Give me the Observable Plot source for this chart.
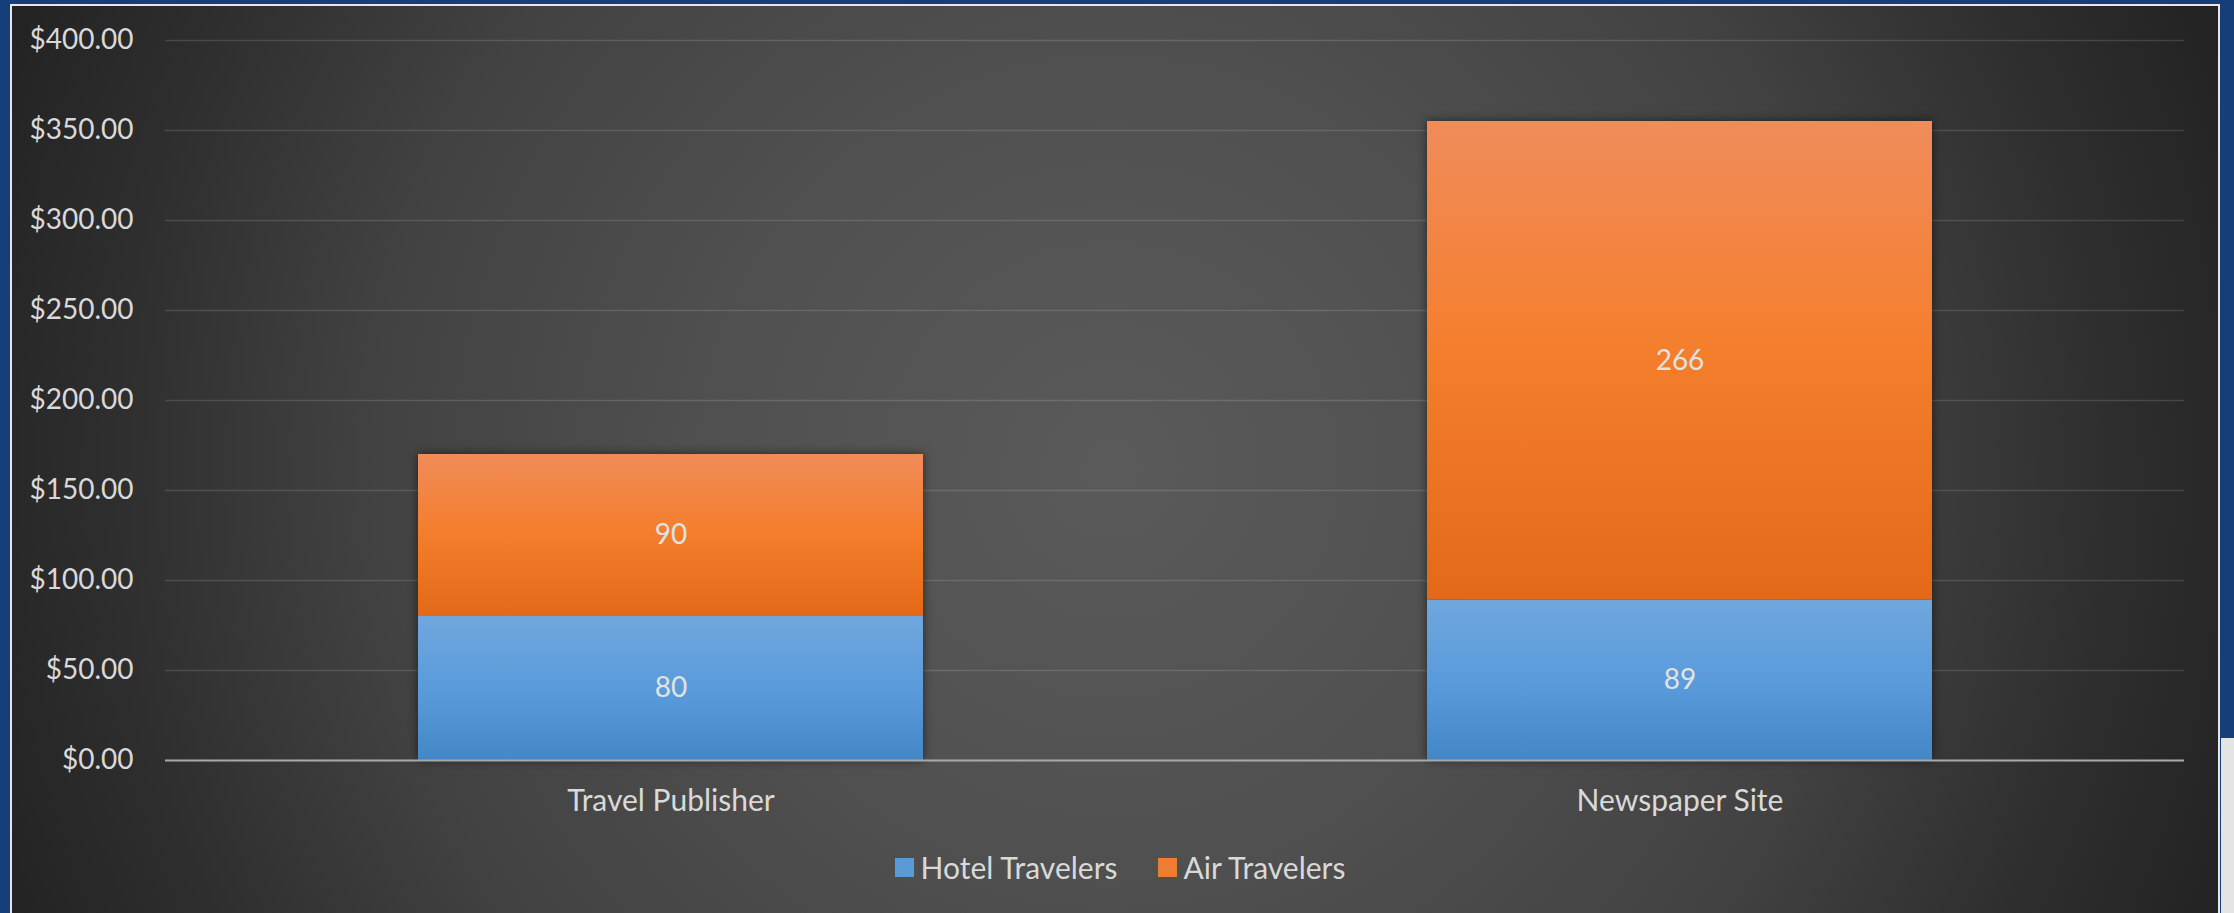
<!DOCTYPE html>
<html>
<head>
<meta charset="utf-8">
<script src="https://cdn.jsdelivr.net/npm/d3@7"></script>
<script src="https://cdn.jsdelivr.net/npm/@observablehq/plot@0.6"></script>
<style>
html, body { margin: 0; padding: 0; width: 2234px; height: 913px; overflow: hidden; background: #163e78; }
#frame {
  position: absolute; left: 10px; top: 4px; width: 2206px; height: 930px;
  border: 2px solid #e6e6e6; border-bottom: none;
  background: radial-gradient(circle 1200px at 1099px 464px, #5a5a5a 0px, #505050 396px, #424242 735px, #2e2e2e 1000px, #222222 1200px);
  font-family: Lato, sans-serif;
}
#chart svg { display: block; }
#chart g[aria-label="bar"] { filter: drop-shadow(0 0 5px rgba(0,0,0,0.55)); }
#legend { display: flex; justify-content: center; padding-top: 13px; padding-left: 10px; }
#legend * { font-family: Lato, sans-serif !important; font-size: 30px !important; color: #d9d9d9 !important; }
#legend > div { margin: 0 !important; }
#legend span { margin-right: 40px !important; }
#legend span:last-child { margin-right: 0 !important; }
#legend span svg { margin-right: 7px !important; }
#corner { position: absolute; left: 2221px; top: 738px; width: 13px; height: 175px; background: #e4e4e4; }
</style>
</head>
<body>
<div id="frame"><div id="chart"></div><div id="legend"></div></div>
<div id="corner"></div>
<script>
const categories = ["Travel Publisher", "Newspaper Site"];
const series = ["Hotel Travelers", "Air Travelers"];
const hotelValues = [80, 89];
const airValues = [90, 266];
const yTicks = [0, 50, 100, 150, 200, 250, 300, 350, 400];
const swatchColors = ["#5b9bd5", "#ed7d31"];

const rows = [];
categories.forEach((c, i) => {
  rows.push({category: c, series: series[0], value: hotelValues[i]});
  rows.push({category: c, series: series[1], value: airValues[i]});
});

const plot = Plot.plot({
  width: 2206,
  height: 830,
  marginLeft: 153,
  marginRight: 34,
  marginTop: 34,
  marginBottom: 76,
  style: {background: "transparent", color: "#d9d9d9", fontFamily: "Lato, sans-serif", fontSize: "28px", overflow: "visible"},
  x: {domain: categories, paddingInner: 0.5, paddingOuter: 0.25, label: null},
  y: {domain: [0, 400], label: null},
  color: {domain: series, range: ["url(#gBlue)", "url(#gOrange)"]},
  marks: [
    Plot.gridY(yTicks, {stroke: "#ffffff", strokeOpacity: 0.13, strokeWidth: 1.5}),
    Plot.barY(rows, Plot.stackY({x: "category", y: "value", fill: "series", order: series})),
    Plot.ruleY([0], {stroke: "#a8a8a8", strokeWidth: 2}),
    Plot.text(rows, Plot.stackY({x: "category", y: "value", z: "series", order: series, text: d => String(d.value), fill: "#e2e2e2", fontSize: 28})),
    Plot.axisY(yTicks, {tickSize: 0, tickPadding: 32, tickFormat: d => "$" + d3.format(".2f")(d), fontSize: 28, fill: "#d9d9d9"}),
    Plot.axisX({tickSize: 0, tickPadding: 29, fontSize: 30, fill: "#d9d9d9"})
  ]
});

const defs = d3.select(plot).insert("defs", ":first-child");
const gb = defs.append("linearGradient").attr("id", "gBlue").attr("x1", 0).attr("y1", 0).attr("x2", 0).attr("y2", 1);
gb.append("stop").attr("offset", "0%").attr("stop-color", "#70a7dd");
gb.append("stop").attr("offset", "50%").attr("stop-color", "#5a9bdb");
gb.append("stop").attr("offset", "100%").attr("stop-color", "#4387c7");
const go = defs.append("linearGradient").attr("id", "gOrange").attr("x1", 0).attr("y1", 0).attr("x2", 0).attr("y2", 1);
go.append("stop").attr("offset", "0%").attr("stop-color", "#f08c5a");
go.append("stop").attr("offset", "48%").attr("stop-color", "#f47e2c");
go.append("stop").attr("offset", "100%").attr("stop-color", "#e36918");

document.getElementById("chart").appendChild(plot);

const legend = Plot.legend({color: {domain: series, range: swatchColors}, swatchSize: 19});
document.getElementById("legend").appendChild(legend);
</script>
</body>
</html>
